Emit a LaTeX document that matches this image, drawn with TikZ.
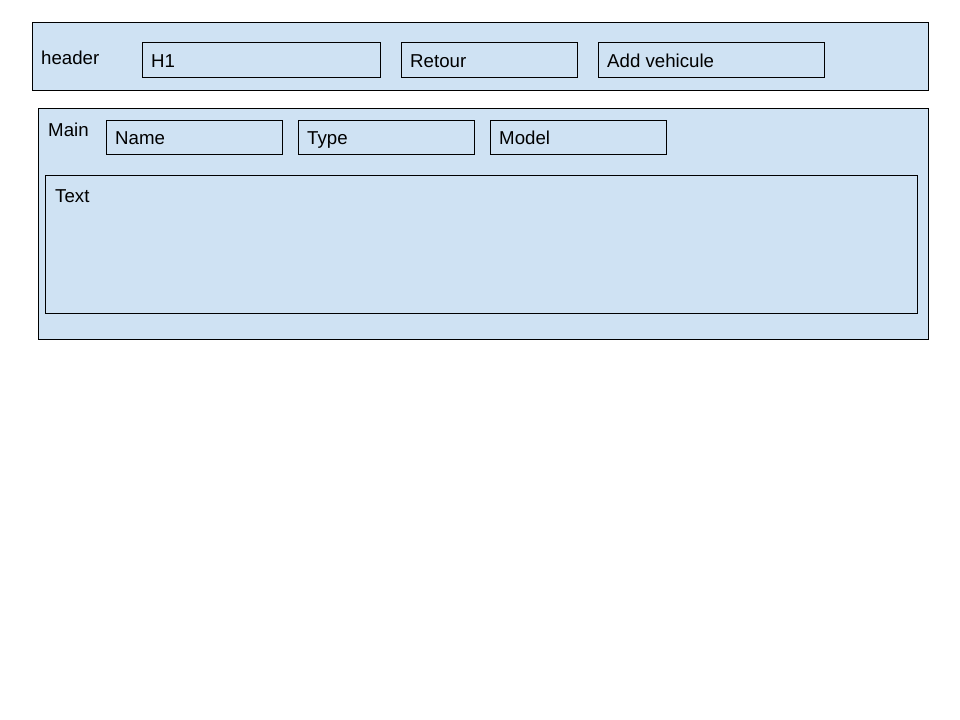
\documentclass[tikz,border=0pt]{standalone}
\usepackage{fontspec}
\setmainfont{Liberation Sans}
\definecolor{boxblue}{HTML}{CFE2F3}
\begin{document}
\begin{tikzpicture}[x=1bp,y=-1bp,
  panel/.style={draw=black,fill=boxblue,line width=1bp},
  lbl/.style={anchor=base west,inner sep=0pt,font=\fontsize{18.67bp}{21bp}\selectfont}]
\useasboundingbox (0,0) rectangle (960,720);
\fill[white] (0,0) rectangle (960,720);
% header
\draw[panel] (32,22.5) rectangle (928,91);
\node[lbl] (header) at (41,65) {header};
\draw[panel] (142,42.5) rectangle (380,78);
\node[lbl] (h1) at (151,68) {H1};
\draw[panel] (401,42.5) rectangle (577,78);
\node[lbl] (retour) at (410,68) {Retour};
\draw[panel] (598,42.5) rectangle (824,78);
\node[lbl] (add) at (607,68) {Add vehicule};
% main
\draw[panel] (38,108.5) rectangle (928,339);
\node[lbl] (main) at (48,137) {Main};
\draw[panel] (106,120.5) rectangle (282,155);
\node[lbl] (name) at (115,145) {Name};
\draw[panel] (298,120.5) rectangle (474,155);
\node[lbl] (type) at (307,145) {Type};
\draw[panel] (490,120.5) rectangle (666,155);
\node[lbl] (model) at (499,145) {Model};
\draw[panel] (45,175.5) rectangle (917,313);
\node[lbl] (text) at (55,202) {Text};
\end{tikzpicture}
\end{document}
